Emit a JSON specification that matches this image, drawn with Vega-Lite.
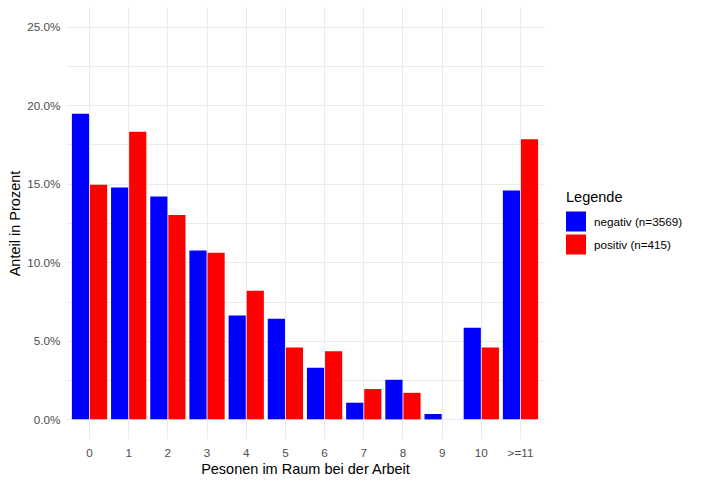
{
  "$schema": "https://vega.github.io/schema/vega-lite/v6.json",
  "width": 478,
  "height": 432,
  "autosize": "none",
  "padding": {"left": 66, "top": 7, "right": 157, "bottom": 45},
  "background": "white",
  "config": {
    "view": {"stroke": null},
    "font": "Liberation Sans",
    "axis": {"gridColor": "#EBEBEB", "gridWidth": 1, "domain": false, "ticks": false, "labelColor": "#4D4D4D", "labelFontSize": 11.7, "titleFontSize": 14.5, "titleFontWeight": "normal", "titleColor": "black"},
    "legend": {"titleFontSize": 14.5, "titleFontWeight": "normal", "labelFontSize": 11.7, "titleColor": "black", "labelColor": "black"}
  },
  "data": {"values": [
    {"k": "0", "g": "negativ (n=3569)", "v": 0.1946},
    {"k": "1", "g": "negativ (n=3569)", "v": 0.1476},
    {"k": "2", "g": "negativ (n=3569)", "v": 0.1418},
    {"k": "3", "g": "negativ (n=3569)", "v": 0.1075},
    {"k": "4", "g": "negativ (n=3569)", "v": 0.0661},
    {"k": "5", "g": "negativ (n=3569)", "v": 0.0641},
    {"k": "6", "g": "negativ (n=3569)", "v": 0.0328},
    {"k": "7", "g": "negativ (n=3569)", "v": 0.0106},
    {"k": "8", "g": "negativ (n=3569)", "v": 0.0252},
    {"k": "9", "g": "negativ (n=3569)", "v": 0.0034},
    {"k": "10", "g": "negativ (n=3569)", "v": 0.0583},
    {"k": ">=11", "g": "negativ (n=3569)", "v": 0.1457},
    {"k": "0", "g": "positiv (n=415)", "v": 0.1494},
    {"k": "1", "g": "positiv (n=415)", "v": 0.1831},
    {"k": "2", "g": "positiv (n=415)", "v": 0.1301},
    {"k": "3", "g": "positiv (n=415)", "v": 0.1060},
    {"k": "4", "g": "positiv (n=415)", "v": 0.0819},
    {"k": "5", "g": "positiv (n=415)", "v": 0.0458},
    {"k": "6", "g": "positiv (n=415)", "v": 0.0434},
    {"k": "7", "g": "positiv (n=415)", "v": 0.0193},
    {"k": "8", "g": "positiv (n=415)", "v": 0.0169},
    {"k": "10", "g": "positiv (n=415)", "v": 0.0458},
    {"k": ">=11", "g": "positiv (n=415)", "v": 0.1783}
  ]},
  "mark": {"type": "bar"},
  "encoding": {
    "x": {
      "field": "k", "type": "nominal", "sort": ["0","1","2","3","4","5","6","7","8","9","10",">=11"],
      "scale": {"paddingInner": 0.1, "paddingOuter": 0.15},
      "axis": {"title": "Pesonen im Raum bei der Arbeit", "labelAngle": 0, "labelPadding": 8, "titlePadding": 4, "grid": true, "labelBaseline": "top"}
    },
    "xOffset": {"field": "g", "type": "nominal", "scale": {"paddingInner": 0.05}},
    "y": {
      "field": "v", "type": "quantitative",
      "scale": {"domain": [-0.0125, 0.2625], "nice": false, "zero": false},
      "axis": {"title": "Anteil in Prozent", "values": [0, 0.025, 0.05, 0.075, 0.1, 0.125, 0.15, 0.175, 0.2, 0.225, 0.25], "format": ".1%",
        "labelExpr": "(round(datum.value*1000) % 50 == 0) ? datum.label : ''", "labelPadding": 6, "titleX": -51, "titleY": 216, "titleBaseline": "middle"}
    },
    "color": {
      "field": "g", "type": "nominal",
      "scale": {"range": ["#0000FF", "#FF0000"]},
      "legend": {"title": "Legende", "orient": "none", "legendX": 500, "legendY": 184, "symbolType": "square", "symbolSize": 400, "symbolStrokeWidth": 0, "symbolOpacity": 1, "labelOffset": 8, "rowPadding": 3, "titlePadding": 6}
    }
  }
}
